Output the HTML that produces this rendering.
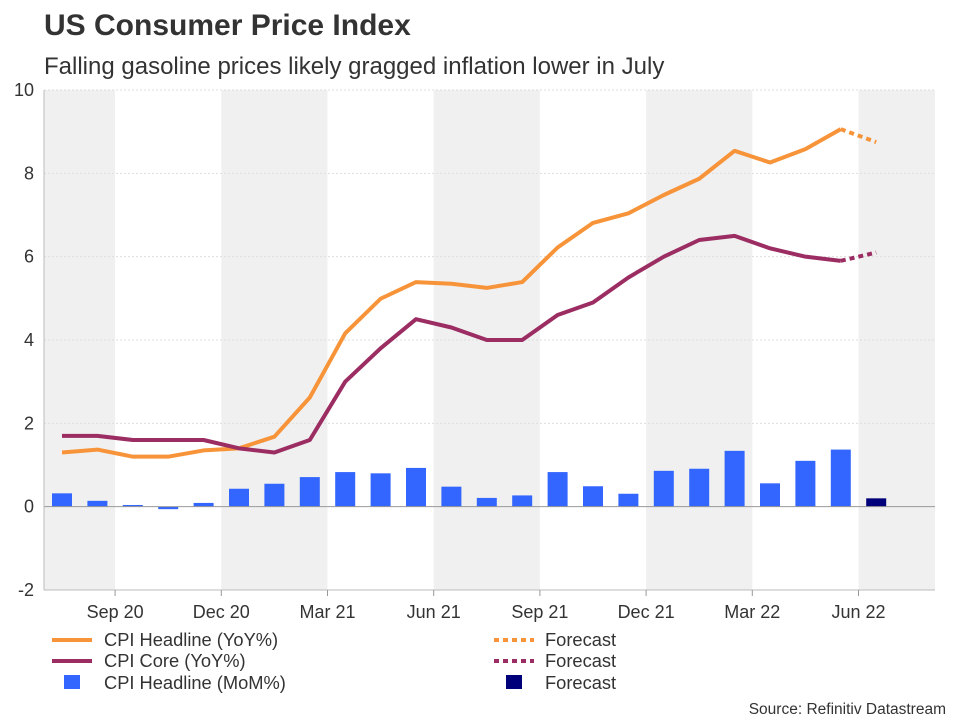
<!DOCTYPE html>
<html><head><meta charset="utf-8"><style>
body{margin:0;background:#fff;font-family:"Liberation Sans",sans-serif;}
</style></head><body>
<svg id="c" width="960" height="720" xmlns="http://www.w3.org/2000/svg">
<text x="44" y="35" font-size="30" font-weight="bold" fill="#333">US Consumer Price Index</text>
<text x="44" y="74" font-size="24" fill="#333">Falling gasoline prices likely gragged inflation lower in July</text>
<g id="bands"></g><g id="grid"></g><g id="bars"></g><g id="lines"></g><g id="axes"></g>
<g font-size="18.3" fill="#333">
<line x1="52" y1="640" x2="92" y2="640" stroke="#f7943a" stroke-width="4"/><text x="104" y="646">CPI Headline (YoY%)</text>
<line x1="52" y1="661" x2="92" y2="661" stroke="#9b2d62" stroke-width="4"/><text x="104" y="667">CPI Core (YoY%)</text>
<rect x="64" y="675" width="16" height="14" fill="#3366ff"/><text x="104" y="689">CPI Headline (MoM%)</text>
<line x1="494" y1="640" x2="534" y2="640" stroke="#f7943a" stroke-width="4" stroke-dasharray="5,4"/><text x="545" y="646">Forecast</text>
<line x1="494" y1="661" x2="534" y2="661" stroke="#9b2d62" stroke-width="4" stroke-dasharray="5,4"/><text x="545" y="667">Forecast</text>
<rect x="506" y="675" width="16" height="14" fill="#00007a"/><text x="545" y="689">Forecast</text>
</g>
<text x="946" y="714" font-size="15.5" fill="#333" text-anchor="end">Source: Refinitiv Datastream</text>
</svg>
<script>
const months=["Aug 20","Sep 20","Oct 20","Nov 20","Dec 20","Jan 21","Feb 21","Mar 21","Apr 21","May 21","Jun 21","Jul 21","Aug 21","Sep 21","Oct 21","Nov 21","Dec 21","Jan 22","Feb 22","Mar 22","Apr 22","May 22","Jun 22","Jul 22"];
const headline=[1.3,1.37,1.2,1.2,1.35,1.4,1.68,2.62,4.16,4.99,5.39,5.35,5.25,5.39,6.22,6.81,7.04,7.48,7.87,8.54,8.26,8.58,9.06];
const headlineForecast=8.75;
const core=[1.7,1.7,1.6,1.6,1.6,1.4,1.3,1.6,3.0,3.8,4.5,4.3,4.0,4.0,4.6,4.9,5.5,6.0,6.4,6.5,6.2,6.0,5.9];
const coreForecast=6.1;
const mom=[0.32,0.14,0.04,-0.06,0.09,0.43,0.55,0.71,0.83,0.80,0.93,0.48,0.21,0.27,0.83,0.49,0.31,0.86,0.91,1.34,0.56,1.10,1.37];
const momForecast=0.2;
const yTicks=[-2,0,2,4,6,8,10];
const xTickLabels=["Sep 20","Dec 20","Mar 21","Jun 21","Sep 21","Dec 21","Mar 22","Jun 22"];
const NS="http://www.w3.org/2000/svg";
const L=44,R=935,T=90,B=590,MW=35.4;
const y=v=>T+(10-v)*(B-T)/12;
const xc=i=>62+i*MW;
const edge=i=>xc(i)-MW/2;
function mk(p,tag,a){const e=document.createElementNS(NS,tag);for(const k in a)e.setAttribute(k,a[k]);document.getElementById(p).appendChild(e);return e;}
let starts=[0,5,11,17,23];
for(const s of starts){let x0=s===0?L:edge(s),x1=s===23?R:edge(s+(s===0?2:3));
const b=mk("bands","rect",{x:x0,y:T,width:x1-x0,height:B-T,fill:"#f0f0f0"});

}
for(const t of yTicks){
 if(t!==0&&t!==-2){const g=mk("grid","line",{x1:L,x2:R,y1:y(t),y2:y(t),stroke:"#ddd","stroke-width":1,"stroke-dasharray":"2,2"});
 
 }
 const tx=mk("axes","text",{x:L-10,y:y(t)+6,"font-size":18,fill:"#333","text-anchor":"end"});tx.textContent=t;
 
 
}
const zl=mk("axes","line",{x1:L,x2:R,y1:y(0),y2:y(0),stroke:"#999","stroke-width":1});


const ya=mk("axes","line",{x1:L,x2:L,y1:T,y2:B,stroke:"#bbb","stroke-width":1});


const xa=mk("axes","line",{x1:L,x2:R,y1:B,y2:B,stroke:"#bbb","stroke-width":1});


xTickLabels.forEach((lab,k)=>{const x=edge(2+3*k);
 const tk=mk("axes","line",{x1:x,x2:x,y1:B,y2:B+6,stroke:"#999"});
 
 
 const t=mk("axes","text",{x:x,y:B+28,"font-size":18,fill:"#333","text-anchor":"middle"});t.textContent=lab;
 
 });
const allMom=mom.concat([momForecast]);
allMom.forEach((v,i)=>{const y0=y(Math.max(v,0)),h=Math.abs(y(v)-y(0));
 const r=mk("bars","rect",{x:xc(i)-10,y:y0,width:20,height:Math.max(h,1),fill:i===mom.length?"#00007a":"#3366ff"});
 
 });
function line(arr,fc,col,name){
 const pts=arr.map((v,i)=>xc(i)+","+y(v)).join(" ");
 const p=mk("lines","polyline",{points:pts,fill:"none",stroke:col,"stroke-width":4,"stroke-linejoin":"round"});
 
 
 const n=arr.length;
 const f=mk("lines","line",{x1:xc(n-1),y1:y(arr[n-1]),x2:xc(n),y2:y(fc),stroke:col,"stroke-width":4,"stroke-dasharray":"5,4"});
 
 
}
line(headline,headlineForecast,"#f7943a","cpi-headline");
line(core,coreForecast,"#9b2d62","cpi-core");
</script>
</body></html>
